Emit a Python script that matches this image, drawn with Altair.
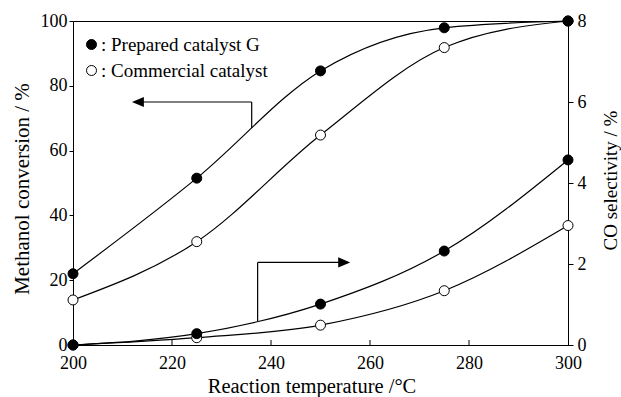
import altair as alt
import pandas as pd

# ---- data ----
temps = [200, 225, 250, 275, 300]
conv_G = [22.0, 51.5, 84.6, 97.9, 100.0]
conv_C = [13.9, 31.9, 64.8, 91.8, 100.0]
co_G = [0.0, 0.28, 1.01, 2.32, 4.57]
co_C = [0.0, 0.18, 0.49, 1.34, 2.95]
series_names = ["Prepared catalyst G", "Commercial catalyst"]

x_ticks = [200, 220, 240, 260, 280, 300]
inner_ticks = [220, 240, 260, 280]
left_ticks = [0, 20, 40, 60, 80, 100]
right_ticks = [0, 2, 4, 6, 8]

# arrow segments (in methanol-conversion axis units)
seg_x1 = [236.1, 236.1, 237.3, 237.3]
seg_y1 = [67.0, 75.0, 7.4, 25.5]
seg_x2 = [236.1, 212.5, 237.3, 255.5]
seg_y2 = [75.0, 75.0, 25.5, 25.5]
head_x = [211.9, 256.0]
head_y = [75.0, 25.5]
head_dir = ["left", "right"]

FONT = "Liberation Serif"

def long(gv, cv):
    rows = []
    for t, v in zip(temps, cv):
        rows.append({"temp": t, "series": series_names[1], "value": v})
    for t, v in zip(temps, gv):
        rows.append({"temp": t, "series": series_names[0], "value": v})
    return pd.DataFrame(rows)

conv_df = long(conv_G, conv_C)
co_df = long(co_G, co_C)
seg_df = pd.DataFrame({"x": seg_x1, "y": seg_y1, "x2": seg_x2, "y2": seg_y2})
head_df = pd.DataFrame({"x": head_x, "y": head_y, "dir": head_dir})
tick_df = pd.DataFrame({"t": inner_ticks})

x_scale = alt.Scale(domain=[200, 300], nice=False)
x_axis = alt.Axis(values=x_ticks, ticks=False, labelPadding=9, labelFlush=False,
                  title="Reaction temperature /°C", titlePadding=4, titleX=238.5, format="d",
                  titleFontSize=20.5)
yl_scale = alt.Scale(domain=[0, 100], nice=False)
yl_axis = alt.Axis(orient="left", values=left_ticks, tickSize=4, labelPadding=2, labelFlush=False,
                   title="Methanol conversion / %", titlePadding=8, titleY=167.5)
yr_scale = alt.Scale(domain=[0, 8], nice=False)
yr_axis = alt.Axis(orient="right", values=right_ticks, tickSize=5, labelPadding=4, labelFlush=False,
                   title="CO selectivity / %", titlePadding=15, titleAngle=270,
                   titleBaseline="top", titleY=159, titleFontSize=19)

fill_scale = alt.Scale(domain=series_names, range=["black", "white"])
legend = alt.Legend(title=None, orient="none", legendX=9, legendY=14, padding=0,
                    symbolType="circle", symbolSize=100, symbolStrokeColor="black",
                    symbolStrokeWidth=1, labelExpr="': ' + datum.label",
                    labelFont=FONT, labelFontSize=19, labelColor="black", labelLimit=0,
                    labelOffset=0, rowPadding=6)

X = alt.X("temp:Q", scale=x_scale, axis=x_axis)

conv_lines = alt.Chart(conv_df).mark_line(interpolate="monotone", color="black", strokeWidth=1.2).encode(
    x=X, y=alt.Y("value:Q", scale=yl_scale, axis=yl_axis), detail="series:N")
conv_points = alt.Chart(conv_df).mark_point(filled=True, stroke="black", strokeWidth=1, size=100, opacity=1).encode(
    x=X, y=alt.Y("value:Q", scale=yl_scale, axis=yl_axis),
    fill=alt.Fill("series:N", scale=fill_scale, legend=legend))
arrows = alt.Chart(seg_df).mark_rule(color="black", strokeWidth=1.2).encode(
    x=alt.X("x:Q", scale=x_scale, axis=x_axis), x2="x2:Q",
    y=alt.Y("y:Q", scale=yl_scale, axis=yl_axis), y2="y2:Q")
heads = alt.Chart(head_df).mark_point(filled=True, color="black", size=144, opacity=1).encode(
    x=alt.X("x:Q", scale=x_scale, axis=x_axis),
    y=alt.Y("y:Q", scale=yl_scale, axis=yl_axis),
    shape=alt.Shape("dir:N", scale=alt.Scale(domain=["left", "right"],
                    range=["M 0 0 L 2 -0.85 L 2 0.85 Z", "M 0 0 L -2 -0.85 L -2 0.85 Z"]), legend=None))

co_lines = alt.Chart(co_df).mark_line(interpolate="monotone", color="black", strokeWidth=1.2).encode(
    x=X, y=alt.Y("value:Q", scale=yr_scale, axis=yr_axis), detail="series:N")
co_points = alt.Chart(co_df).mark_point(filled=True, stroke="black", strokeWidth=1, size=100, opacity=1).encode(
    x=X, y=alt.Y("value:Q", scale=yr_scale, axis=yr_axis),
    fill=alt.Fill("series:N", scale=fill_scale, legend=legend))

inner = alt.Chart(tick_df).mark_rule(color="black", strokeWidth=1).encode(
    x=alt.X("t:Q", scale=x_scale, axis=x_axis), y=alt.value(324), y2=alt.value(319))

left = alt.layer(conv_lines, arrows, heads, conv_points)
right = alt.layer(co_lines, co_points)

chart = alt.layer(left, right, inner).resolve_scale(y="independent").properties(
    width=495, height=324,
    background="white",
    autosize=alt.AutoSizeParams(type="none"),
    padding={"left": 73, "top": 21, "right": 53, "bottom": 52},
).configure_view(stroke="black", strokeWidth=1).configure_axis(
    grid=False, domainColor="black", domainWidth=1, tickColor="black", tickWidth=1,
    labelColor="black", titleColor="black", labelFont=FONT, titleFont=FONT,
    labelFontSize=18, titleFontSize=21, titleFontWeight="normal",
)

chart.save("out.html", embed_options={"renderer": "svg", "actions": False})
